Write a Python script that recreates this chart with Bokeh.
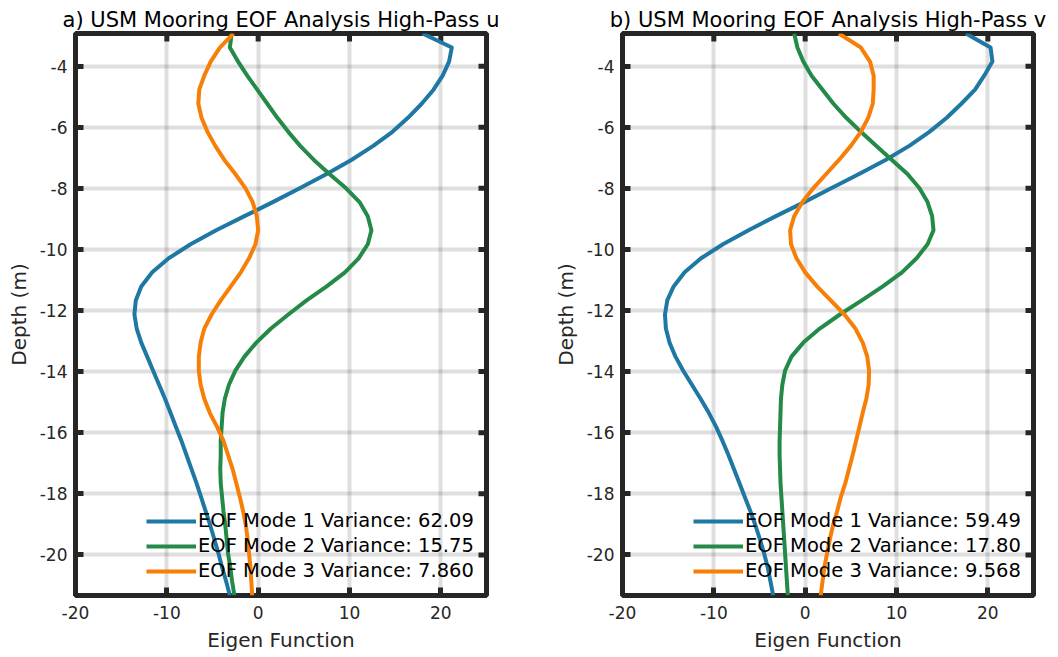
from bokeh.plotting import figure
from bokeh.models import Range1d, FixedTicker, Legend, LegendItem
from bokeh.layouts import row
from bokeh.embed import file_html
from bokeh.resources import INLINE

# Depth bins (m)
depth = [-2.93, -3.39, -3.85, -4.31, -4.77, -5.23, -5.69, -6.15, -6.61, -7.07,
         -7.53, -7.99, -8.45, -8.91, -9.37, -9.83, -10.29, -10.75, -11.21, -11.67,
         -12.13, -12.59, -13.05, -13.51, -13.97, -14.43, -14.89, -15.35, -15.81, -16.27,
         -16.73, -17.19, -17.65, -18.11, -18.57, -19.03, -19.49, -19.95, -20.41, -20.87,
         -21.33]

# High-pass u eigenfunctions
u_mode1 = [18.0, 21.2, 20.9, 20.2, 19.2, 17.9, 16.4, 14.7, 12.6, 10.2,
           7.5, 4.6, 1.6, -1.5, -4.6, -7.4, -9.8, -11.6, -12.8, -13.4,
           -13.55, -13.3, -12.8, -12.15, -11.5, -10.85, -10.2, -9.6, -9.0, -8.4,
           -7.85, -7.3, -6.75, -6.25, -5.75, -5.25, -4.8, -4.35, -3.95, -3.5,
           -3.1]
u_mode2 = [-2.9, -3.1, -2.2, -1.2, -0.1, 1.0, 2.1, 3.3, 4.6, 6.1,
           7.8, 9.6, 11.1, 12.0, 12.4, 12.0, 11.0, 9.5, 7.5, 5.3,
           3.3, 1.4, -0.2, -1.5, -2.5, -3.2, -3.65, -3.9, -4.0, -4.1,
           -4.1, -4.15, -4.1, -3.95, -3.8, -3.6, -3.45, -3.3, -3.05, -2.85,
           -2.6]
u_mode3 = [-2.7, -4.2, -5.2, -5.9, -6.45, -6.55, -6.2, -5.55, -4.7, -3.7,
           -2.5, -1.4, -0.6, -0.15, 0.0, -0.3, -1.0, -1.9, -3.0, -4.1,
           -5.1, -5.9, -6.3, -6.5, -6.5, -6.3, -5.9, -5.3, -4.5, -3.8,
           -3.3, -2.8, -2.4, -2.0, -1.65, -1.35, -1.15, -1.0, -0.85, -0.75,
           -0.65]
u_variance = ["62.09", "15.75", "7.860"]

# High-pass v eigenfunctions
v_mode1 = [17.6, 20.3, 20.5, 19.6, 18.6, 17.1, 15.5, 13.6, 11.4, 8.8,
           5.9, 2.9, -0.1, -3.2, -6.2, -9.0, -11.4, -13.2, -14.4, -15.1,
           -15.35, -15.25, -14.85, -14.2, -13.35, -12.4, -11.45, -10.55, -9.75, -9.05,
           -8.4, -7.8, -7.2, -6.6, -6.0, -5.45, -4.95, -4.5, -4.1, -3.8,
           -3.5]
v_mode2 = [-1.2, -0.85, -0.2, 0.7, 1.9, 3.1, 4.5, 6.1, 7.8, 9.5,
           11.2, 12.5, 13.4, 13.9, 14.05, 13.4, 12.2, 10.6, 8.5, 6.2,
           3.8, 1.6, -0.2, -1.5, -2.2, -2.5, -2.65, -2.7, -2.75, -2.8,
           -2.8, -2.75, -2.7, -2.6, -2.5, -2.4, -2.3, -2.2, -2.1, -2.0,
           -1.9]
v_mode3 = [3.7, 6.1, 7.1, 7.5, 7.5, 7.4, 6.9, 6.1, 5.0, 3.7,
           2.3, 0.9, -0.3, -1.2, -1.65, -1.55, -0.95, 0.0, 1.3, 2.8,
           4.3, 5.5, 6.3, 6.8, 7.0, 6.95, 6.7, 6.3, 5.94, 5.57,
           5.2, 4.8, 4.4, 3.9, 3.5, 3.05, 2.7, 2.4, 2.1, 1.9,
           1.7]
v_variance = ["59.49", "17.80", "9.568"]

x_ticks = [-20, -10, 0, 10, 20]
y_ticks = [-20, -18, -16, -14, -12, -10, -8, -6, -4]

FONT = "DejaVu Sans"
DARK = "#262626"
COLORS = ["#1f77a3", "#238a47", "#f77f07"]
FRAME_W, FRAME_H = 411, 562
TICK_PX = 8


def style_axis(ax, ticks, standoff):
    ax.ticker = FixedTicker(ticks=ticks)
    ax.major_label_overrides = {t: str(t) for t in ticks}
    ax.axis_line_color = None
    ax.major_tick_in = TICK_PX
    ax.major_tick_out = 0
    ax.major_tick_line_width = 5
    ax.major_tick_line_color = DARK
    ax.minor_tick_line_color = None
    ax.major_label_text_font = FONT
    ax.major_label_text_color = DARK
    ax.major_label_text_font_size = "17px"
    ax.major_label_standoff = standoff
    ax.axis_label_text_font = FONT
    ax.axis_label_text_font_size = "20px"
    ax.axis_label_text_font_style = "normal"
    ax.axis_label_text_color = DARK
    ax.axis_label_standoff = 6


def make_panel(head, modes, variances, border_left, border_right):
    x0, x1 = -20, 25
    y0, y1 = depth[-1], depth[0]
    p = figure(frame_width=FRAME_W, frame_height=FRAME_H,
               x_range=Range1d(x0, x1), y_range=Range1d(y0, y1),
               output_backend="svg", toolbar_location=None,
               min_border_left=border_left, min_border_right=border_right,
               min_border_top=33, min_border_bottom=62,
               background_fill_color="white", border_fill_color="white")

    p.title.text = head
    p.title.align = "center"
    p.title.text_font = FONT
    p.title.text_font_size = "21px"
    p.title.text_font_style = "normal"
    p.title.text_color = "black"
    p.title.standoff = 4

    bottom = p.below[0]
    left = p.left[0]
    style_axis(bottom, x_ticks, 10)
    style_axis(left, y_ticks, 8)
    bottom.axis_label = "Eigen Function"
    left.axis_label = "Depth (m)"

    p.grid.grid_line_color = DARK
    p.grid.grid_line_alpha = 0.15
    p.grid.grid_line_width = 4
    p.xgrid.ticker = FixedTicker(ticks=x_ticks)
    p.ygrid.ticker = FixedTicker(ticks=y_ticks)

    # inward tick marks on the top and right edges of the box
    dy = (y1 - y0) / FRAME_H * TICK_PX
    dx = (x1 - x0) / FRAME_W * TICK_PX
    p.segment(x0=x_ticks, y0=[y1] * len(x_ticks), x1=x_ticks, y1=[y1 - dy] * len(x_ticks),
              line_color=DARK, line_width=5)
    p.segment(x0=[x1] * len(y_ticks), y0=y_ticks, x1=[x1 - dx] * len(y_ticks), y1=y_ticks,
              line_color=DARK, line_width=5)

    p.outline_line_color = DARK
    p.outline_line_width = 5
    p.outline_line_alpha = 1.0

    items = []
    for i, (vals, var) in enumerate(zip(modes, variances)):
        r = p.line(vals, depth, line_color=COLORS[i], line_width=4, line_join="round")
        items.append(LegendItem(label=f"EOF Mode {i + 1} Variance: {var}", renderers=[r]))

    legend = Legend(items=items, location=(71, 13),
                    label_text_font=FONT, label_text_font_size="19.5px",
                    label_text_color="black",
                    glyph_width=50, glyph_height=22, label_height=22,
                    label_standoff=2, spacing=2, padding=0, margin=0,
                    background_fill_alpha=0, border_line_alpha=0)
    p.add_layout(legend)
    return p


left = make_panel("a) USM Mooring EOF Analysis High-Pass u",
                  [u_mode1, u_mode2, u_mode3], u_variance, 75, 43)
right = make_panel("b) USM Mooring EOF Analysis High-Pass v",
                   [v_mode1, v_mode2, v_mode3], v_variance, 93, 25)

layout = row(left, right)
open("out.html", "w").write(file_html(layout, INLINE))
